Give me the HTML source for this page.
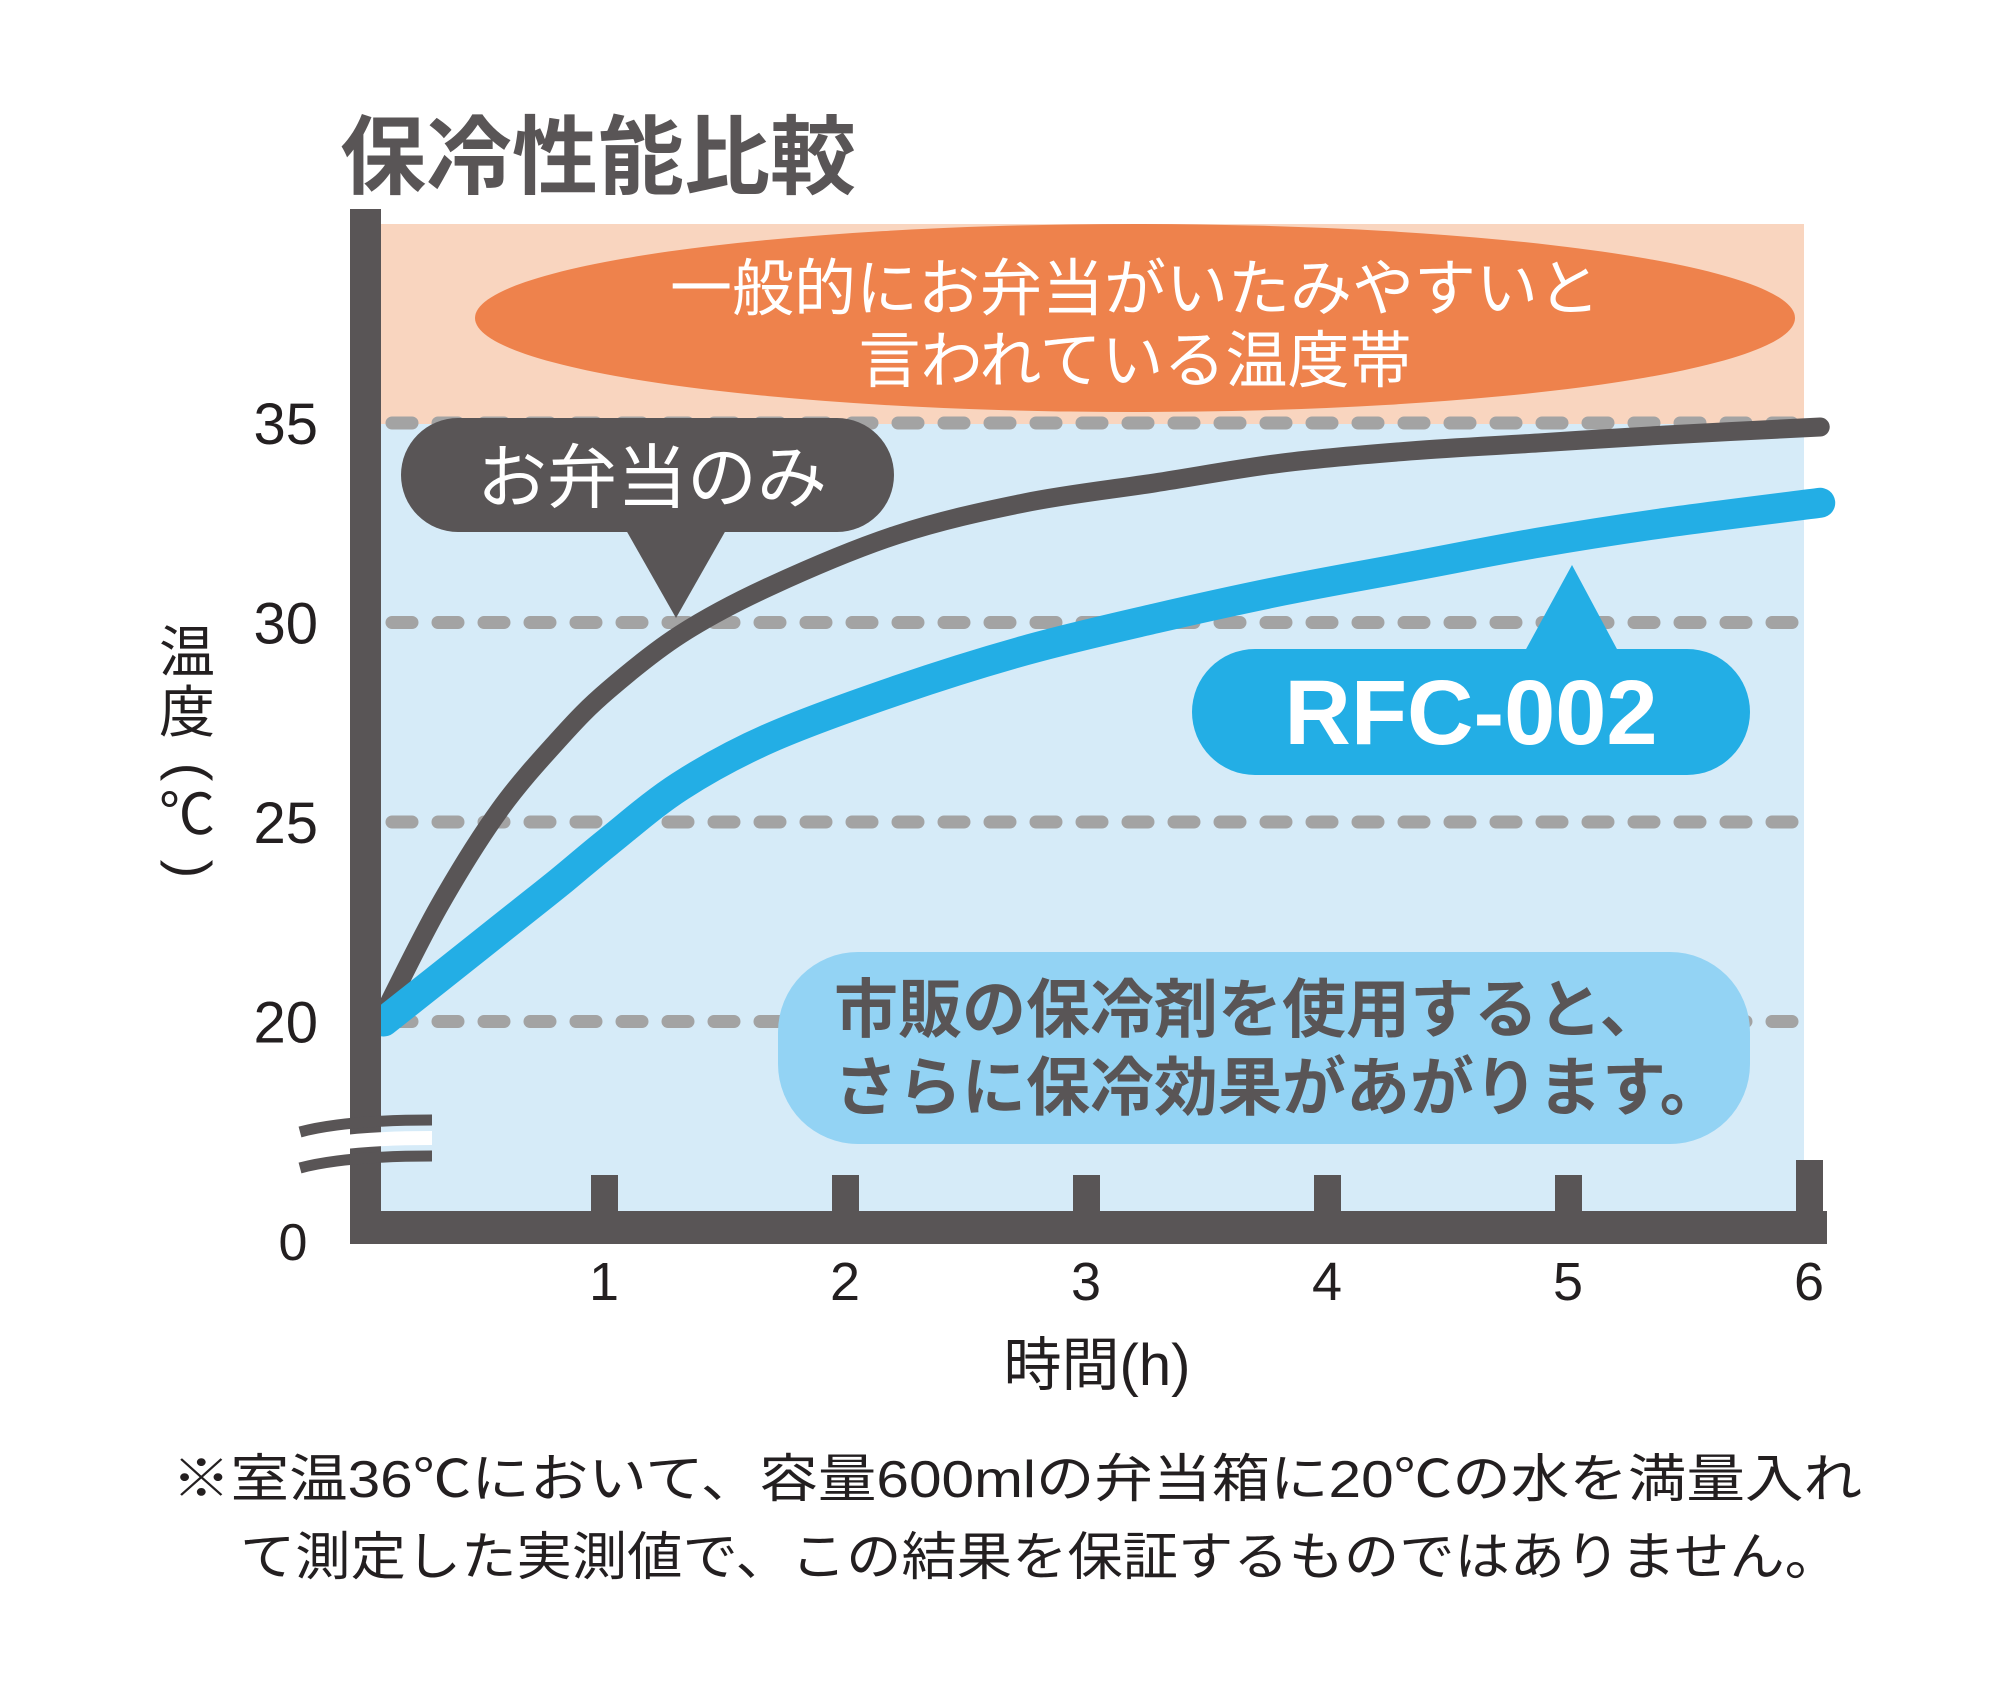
<!DOCTYPE html>
<html><head><meta charset="utf-8">
<style>
html,body{margin:0;padding:0;background:#fff;}
svg{display:block;}
text{font-family:"Liberation Sans","Noto Sans CJK JP",sans-serif;}
</style></head>
<body>
<svg id="chart" width="2000" height="1700" viewBox="0 0 2000 1700" xmlns="http://www.w3.org/2000/svg">
  <text x="340" y="187" font-size="86" font-weight="bold" fill="#595556" style="font-family:'Noto Sans CJK JP',sans-serif">保冷性能比較</text>
  <rect x="381" y="224" width="1423" height="987" fill="#d6ebf8"/>
  <rect x="381" y="224" width="1423" height="200" fill="#f9d5bf"/>
  <g id="grid"></g>
  <g id="ylabels"></g>
  <g id="series"></g>
  <ellipse cx="1135" cy="318" rx="660" ry="94" fill="#ee824c"/>
  <text x="1135" y="310" font-size="62" fill="#fff" text-anchor="middle">一般的にお弁当がいたみやすいと</text>
  <text x="1135" y="382" font-size="62" fill="#fff" text-anchor="middle">言われている温度帯</text>
  <g>
    <rect x="401" y="418" width="493" height="114" rx="57" fill="#595556"/>
    <polygon points="626,530 726,530 676,618" fill="#595556"/>
    <text x="652" y="502" font-size="70" fill="#fff" text-anchor="middle">お弁当のみ</text>
  </g>
  <g>
    <rect x="1192" y="649" width="558" height="126" rx="63" fill="#23aee5"/>
    <polygon points="1525,651 1618,651 1572,565" fill="#23aee5"/>
    <text x="1471" y="744" font-size="92" font-weight="bold" fill="#fff" text-anchor="middle">RFC-002</text>
  </g>
  <g>
    <rect x="778" y="952" width="972" height="192" rx="80" fill="#93d3f4"/>
    <text x="834" y="1032" font-size="64" font-weight="bold" fill="#595556">市販の保冷剤を使用すると、</text>
    <text x="834" y="1110" font-size="64" font-weight="bold" fill="#595556">さらに保冷効果があがります。</text>
  </g>
  <rect x="350" y="209" width="31" height="1035" fill="#595556"/>
  <rect x="350" y="1211" width="1477" height="33" fill="#595556"/>
  <g id="xticks"></g>
  <g>
    <path d="M300,1150 Q345,1138 432,1138" stroke="#fff" stroke-width="14" fill="none"/>
    <path d="M300,1132 Q345,1120 432,1120" stroke="#595556" stroke-width="11" fill="none"/>
    <path d="M300,1168 Q345,1156 432,1156" stroke="#595556" stroke-width="11" fill="none"/>
  </g>
  <text x="293" y="1260" font-size="52" fill="#231f20" text-anchor="middle">0</text>
  <g font-size="56" fill="#231f20" text-anchor="middle">
    <text x="187" y="672">温</text>
    <text x="187" y="732">度</text>
    <text x="187" y="787" transform="rotate(90 187 772)">(</text>
    <text x="187" y="834">℃</text>
    <text x="187" y="884" transform="rotate(90 187 869)">)</text>
  </g>
  <text x="1097" y="1385" font-size="58" fill="#231f20" text-anchor="middle">時間(h)</text>
  <text x="172" y="1497" font-size="52" fill="#231f20" textLength="1690" lengthAdjust="spacingAndGlyphs">※室温36℃において、容量600mlの弁当箱に20℃の水を満量入れ</text>
  <text x="240" y="1575" font-size="52" fill="#231f20" textLength="1600" lengthAdjust="spacingAndGlyphs">て測定した実測値で、この結果を保証するものではありません。</text>
</svg>
<script>
const yTicks = [20, 25, 30, 35];
const xTicks = [1, 2, 3, 4, 5, 6];
const hours = [0.07, 0.3, 0.55, 0.8, 1.0, 1.3, 1.67, 2.2, 2.73, 3.27, 3.8, 4.33, 4.86, 5.39, 6.03];
const bentoOnly = [20.2, 22.9, 25.3, 27.1, 28.3, 29.7, 30.9, 32.2, 33.0, 33.5, 34.0, 34.3, 34.5, 34.7, 34.9];
const rfc002 = [20.0, 21.1, 22.3, 23.5, 24.5, 25.9, 27.1, 28.3, 29.3, 30.1, 30.8, 31.4, 32.0, 32.5, 33.0];

const NS = 'http://www.w3.org/2000/svg';
function xs(t){ return 367 + t * 241; }
function ys(v){ return 423 + (35 - v) * 39.9; }

const grid = document.getElementById('grid');
const ylab = document.getElementById('ylabels');
yTicks.forEach(v => {
  const l = document.createElementNS(NS,'line');
  l.setAttribute('x1', 392); l.setAttribute('x2', 1804);
  l.setAttribute('y1', ys(v)); l.setAttribute('y2', ys(v));
  l.setAttribute('stroke', '#a3a3a3'); l.setAttribute('stroke-width', 13);
  l.setAttribute('stroke-linecap', 'round'); l.setAttribute('stroke-dasharray', '20 26');
  
  
  grid.appendChild(l);
  const t = document.createElementNS(NS,'text');
  t.setAttribute('x', 318); t.setAttribute('y', ys(v) + 21);
  t.setAttribute('font-size', 58); t.setAttribute('fill', '#231f20');
  t.setAttribute('text-anchor', 'end');
  t.textContent = v;
  
  
  ylab.appendChild(t);
});

const xt = document.getElementById('xticks');
xTicks.forEach(h => {
  const r = document.createElementNS(NS,'rect');
  const top = h === 6 ? 1160 : 1175;
  r.setAttribute('x', xs(h) - 17); r.setAttribute('y', top);
  r.setAttribute('width', 27); r.setAttribute('height', 1215 - top);
  r.setAttribute('fill', '#595556');
  
  
  xt.appendChild(r);
  const t = document.createElementNS(NS,'text');
  t.setAttribute('x', xs(h) - 4); t.setAttribute('y', 1300);
  t.setAttribute('font-size', 54); t.setAttribute('fill', '#231f20');
  t.setAttribute('text-anchor', 'middle');
  t.textContent = h;
  
  
  xt.appendChild(t);
});

function pathFor(vals){
  const pts = hours.map((h,i)=>[xs(h), ys(vals[i])]);
  let d = 'M' + pts[0][0] + ',' + pts[0][1];
  for (let i=0;i<pts.length-1;i++){
    const p0 = pts[Math.max(0,i-1)], p1 = pts[i], p2 = pts[i+1], p3 = pts[Math.min(pts.length-1,i+2)];
    const c1 = [p1[0]+(p2[0]-p0[0])/6, p1[1]+(p2[1]-p0[1])/6];
    const c2 = [p2[0]-(p3[0]-p1[0])/6, p2[1]-(p3[1]-p1[1])/6];
    d += ' C'+c1[0]+','+c1[1]+' '+c2[0]+','+c2[1]+' '+p2[0]+','+p2[1];
  }
  return d;
}
const series = document.getElementById('series');
const pd = document.createElementNS(NS,'path');
pd.setAttribute('d', pathFor(bentoOnly));
pd.setAttribute('stroke', '#595556'); pd.setAttribute('stroke-width', 19);
pd.setAttribute('fill', 'none'); pd.setAttribute('stroke-linecap', 'round');


series.appendChild(pd);
const pb = document.createElementNS(NS,'path');
pb.setAttribute('d', pathFor(rfc002));
pb.setAttribute('stroke', '#23aee5'); pb.setAttribute('stroke-width', 30);
pb.setAttribute('fill', 'none'); pb.setAttribute('stroke-linecap', 'round');


series.appendChild(pb);
</script>
</body></html>
